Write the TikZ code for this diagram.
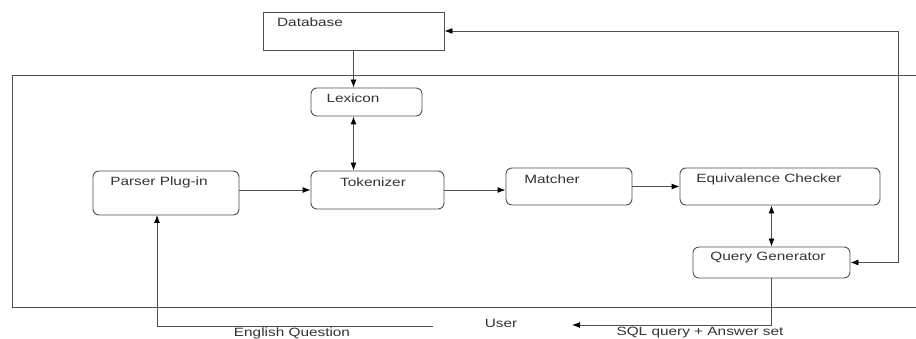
\documentclass[tikz,border=0pt]{standalone}
\usepackage{fontspec}
\setmainfont[FakeStretch=1.28]{Liberation Sans}
\usetikzlibrary{arrows.meta}
\definecolor{linegray}{HTML}{505050}
\definecolor{textgray}{HTML}{333333}

\begin{document}
\begin{tikzpicture}[x=1pt,y=-1pt,>={Latex[length=8pt,width=6pt,black]},line width=0.9pt,
                    blk/.style={draw=linegray,rounded corners=6pt,inner sep=0pt},
                    dbbox/.style={draw=linegray,inner sep=0pt},
                    lbl/.style={text=textgray,font=\fontsize{12}{14}\selectfont,inner sep=1pt}]
        \useasboundingbox (0,0) rectangle (916,339);

        % outer frame (open at the right)
        \draw[linegray] (916,75) -- (12,75) -- (12,307) -- (916,307);

        \node[dbbox,minimum width=181pt,minimum height=38pt] (db) at (353.5,31) {};
        \node[blk,minimum width=111pt,minimum height=28pt] (lex) at (366.5,102) {};
        \node[blk,minimum width=146pt,minimum height=44pt] (parser) at (166,193) {};
        \node[blk,minimum width=133pt,minimum height=38pt] (tok) at (377.5,190) {};
        \node[blk,minimum width=126pt,minimum height=37pt] (match) at (569,186.5) {};
        \node[blk,minimum width=200pt,minimum height=37pt] (equiv) at (780,186.5) {};
        \node[blk,minimum width=157pt,minimum height=31pt] (query) at (771.5,262.5) {};

        \node[lbl] (db-t) at (310,22) {Database};
        \node[lbl] (lex-t) at (353,98) {Lexicon};
        \node[lbl] (parser-t) at (159,182) {Parser Plug-in};
        \node[lbl] (tok-t) at (373,182) {Tokenizer};
        \node[lbl] (match-t) at (552,179) {Matcher};
        \node[lbl] (equiv-t) at (769,179) {Equivalence Checker};
        \node[lbl] (query-t) at (768,258) {Query Generator};

        \node[lbl] (user) at (501,323) {User};
        \node[lbl] (english) at (292,333) {English Question};
        \node[lbl] (sql) at (700,333) {SQL query + Answer set};

        \coordinate (rt) at (898,31);
        \coordinate (eqstart) at (433,326);
        \coordinate (eqin) at (157,215);
        \coordinate (sqlend) at (572,325);

        \begin{scope}[linegray]
            \draw[->] (db.south) -- (db.south |- lex.north);
            \draw[<->] (db.south |- lex.south) -- (db.south |- tok.north);
            \draw[->] (parser.east |- tok.west) -- (tok.west);
            \draw[->] (tok.east) -- (tok.east -| match.west);
            \draw[->] (match.east) -- (equiv.west);
            \draw[<->] (query.north) -- (query.north |- equiv.south);
            \draw[<->] (db.east) -- (rt) |- (query.east);
            \draw[->] (query.south) |- (sqlend);
            \draw[->] (eqstart) -| (eqin);
        \end{scope}
    \end{tikzpicture}
\end{document}
